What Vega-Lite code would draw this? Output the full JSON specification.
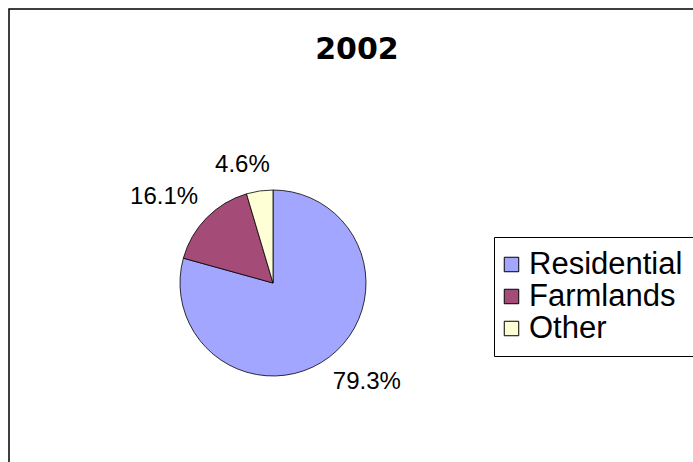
{
  "$schema": "https://vega.github.io/schema/vega-lite/v6.json",
  "width": 693,
  "height": 462,
  "autosize": {"type": "fit", "contains": "padding"},
  "padding": {"left": 9, "top": 9, "right": -8, "bottom": -8},
  "background": "white",
  "view": {"stroke": "#000", "strokeWidth": 1.5},
  "title": {
    "text": "2002",
    "font": "DejaVu Sans",
    "fontSize": 30,
    "fontWeight": "bold",
    "color": "#000",
    "anchor": "middle",
    "frame": "group",
    "baseline": "alphabetic",
    "offset": -80,
    "dx": 2
  },
  "config": {
    "view": {"stroke": "#000", "strokeWidth": 1.5},
    "style": {"cell": {"stroke": "#000", "strokeWidth": 1.5}},
    "font": "Liberation Sans"
  },
  "data": {
    "values": [
      {"category": "Residential", "value": 79.3, "label": "79.3%", "rank": 1},
      {"category": "Farmlands", "value": 16.1, "label": "16.1%", "rank": 2},
      {"category": "Other", "value": 4.6, "label": "4.6%", "rank": 3}
    ]
  },
  "encoding": {
    "theta": {"field": "value", "type": "quantitative", "stack": true},
    "order": {"field": "rank", "type": "quantitative"}
  },
  "layer": [
    {
      "mark": {"type": "arc", "outerRadius": 93, "x": 264, "y": 274, "stroke": "#000", "strokeWidth": 0.8},
      "encoding": {
        "color": {
          "field": "category",
          "type": "nominal",
          "sort": ["Residential", "Farmlands", "Other"],
          "scale": {"domain": ["Residential", "Farmlands", "Other"], "range": ["#A3A6FF", "#A54B78", "#FFFFD6"]},
          "legend": {
            "orient": "none",
            "legendX": 485,
            "legendY": 228,
            "title": null,
            "strokeColor": "#000",
            "fillColor": "white",
            "padding": 12,
            "symbolType": "square",
            "symbolSize": 210,
            "symbolOffset": -10,
            "symbolStrokeColor": "#000",
            "symbolStrokeWidth": 1,
            "symbolOpacity": 1,
            "labelFontSize": 31,
            "labelFont": "Liberation Sans",
            "labelColor": "#000",
            "labelOffset": 2,
            "rowPadding": 0
          }
        }
      }
    },
    {
      "mark": {
        "type": "text",
        "radius": {"expr": "106 + abs(sin(PI*(datum.value_start+datum.value_end)/100 - 0.11))*length(datum.label)*6.85 + abs(cos(PI*(datum.value_start+datum.value_end)/100 - 0.11))*9"},
        "thetaOffset": -0.11,
        "x": 264,
        "y": 274,
        "fontSize": 24,
        "color": "#000"
      },
      "encoding": {
        "text": {"field": "label", "type": "nominal"}
      }
    }
  ]
}
